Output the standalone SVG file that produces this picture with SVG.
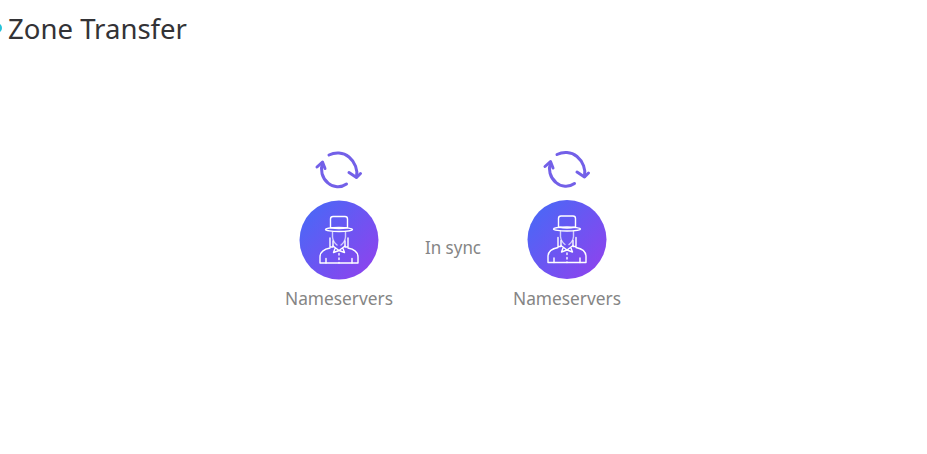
<svg xmlns="http://www.w3.org/2000/svg" xmlns:xlink="http://www.w3.org/1999/xlink" width="927" height="454" viewBox="0 0 927 454">
<style>
text{font-family:"Noto Sans","Open Sans",sans-serif}
.title{font-size:28px;fill:#333336;font-weight:400}
.lbl{font-size:18px;fill:#858585;text-anchor:middle}
.sync{fill:none;stroke:#7360e8;stroke-width:3;stroke-linecap:round;stroke-linejoin:round}
.man{fill:none;stroke:#fff;stroke-width:1.400;stroke-linecap:round;stroke-linejoin:round}
</style>
<defs>
<linearGradient id="g" x1="0.1" y1="0.15" x2="0.9" y2="0.85">
<stop offset="0" stop-color="#4d66f6"/><stop offset="1" stop-color="#8a45ee"/>
</linearGradient>
<g id="sync">
<path class="sync" d="M-16.500,-7 C-19,0 -17,8 -11,13 C-6,17.500 2,18 7.500,14"/>
<path class="sync" d="M-22,-3 L-16.500,-8 L-14,-1.500"/>
<path class="sync" d="M-10,-15 C-4,-18 4,-18 10,-13 C16,-8 19,0 17.500,7"/>
<path class="sync" d="M10,2.500 L17.500,7.500 L21.500,3.500"/>
</g>
<g id="man">
<circle r="39.500" fill="url(#g)"/>
<path class="man" d="M-8.500,-12.500 L-8.500,-21 Q-8.500,-23.500 -6,-23.500 L6,-23.500 Q8.500,-23.500 8.500,-21 L8.500,-12.500 Q0,-10.500 -8.500,-12.500"/>
<ellipse class="man" cx="0" cy="-10.500" rx="13.500" ry="2"/>
<path class="man" stroke-opacity=".7" d="M-6.500,-8 L-6.500,-3 Q-6,2 -2,5 M6.500,-8 L6.500,-3 Q6,2 2,5"/>
<path class="man" d="M-6,1 L-6,7 L-9,7 L-9,-2 M6,1 L6,7 L9,7 L9,-2"/>
<path class="man" d="M-9,8 Q-19,10 -19,17 L-19,23 L19,23 L19,17 Q19,10 9,8"/>
<path class="man" d="M-6,6 L0,10.500 L6,6 M-4,8.500 L-5.500,12.500 L0,10.500 L5.500,12.500 L4,8.500"/>
<path class="man" d="M-13,23 L-13,18.500 M13,23 L13,18.500"/>
<path class="man" stroke-dasharray="1.500 3" d="M0,13.500 L0,23"/>
</g>
</defs>
<circle cx="-3" cy="28" r="5" fill="#25c3d9"/>
<text class="title" x="8" y="38.500" textLength="179" lengthAdjust="spacingAndGlyphs">Zone Transfer</text>
<g id="connectors"/>
<g id="node-left">
<use xlink:href="#sync" href="#sync" x="339" y="170"/>
<use xlink:href="#man" href="#man" x="339" y="240"/>
<text class="lbl" x="339" y="305" textLength="108" lengthAdjust="spacingAndGlyphs">Nameservers</text>
</g>
<g id="node-right">
<use xlink:href="#sync" href="#sync" x="567" y="169.500"/>
<use xlink:href="#man" href="#man" x="567" y="239.500"/>
<text class="lbl" x="567" y="304.500" textLength="108" lengthAdjust="spacingAndGlyphs">Nameservers</text>
</g>
<g id="label-sync">
<text class="lbl" x="453" y="254" textLength="56" lengthAdjust="spacingAndGlyphs">In sync</text>
</g>
</svg>
